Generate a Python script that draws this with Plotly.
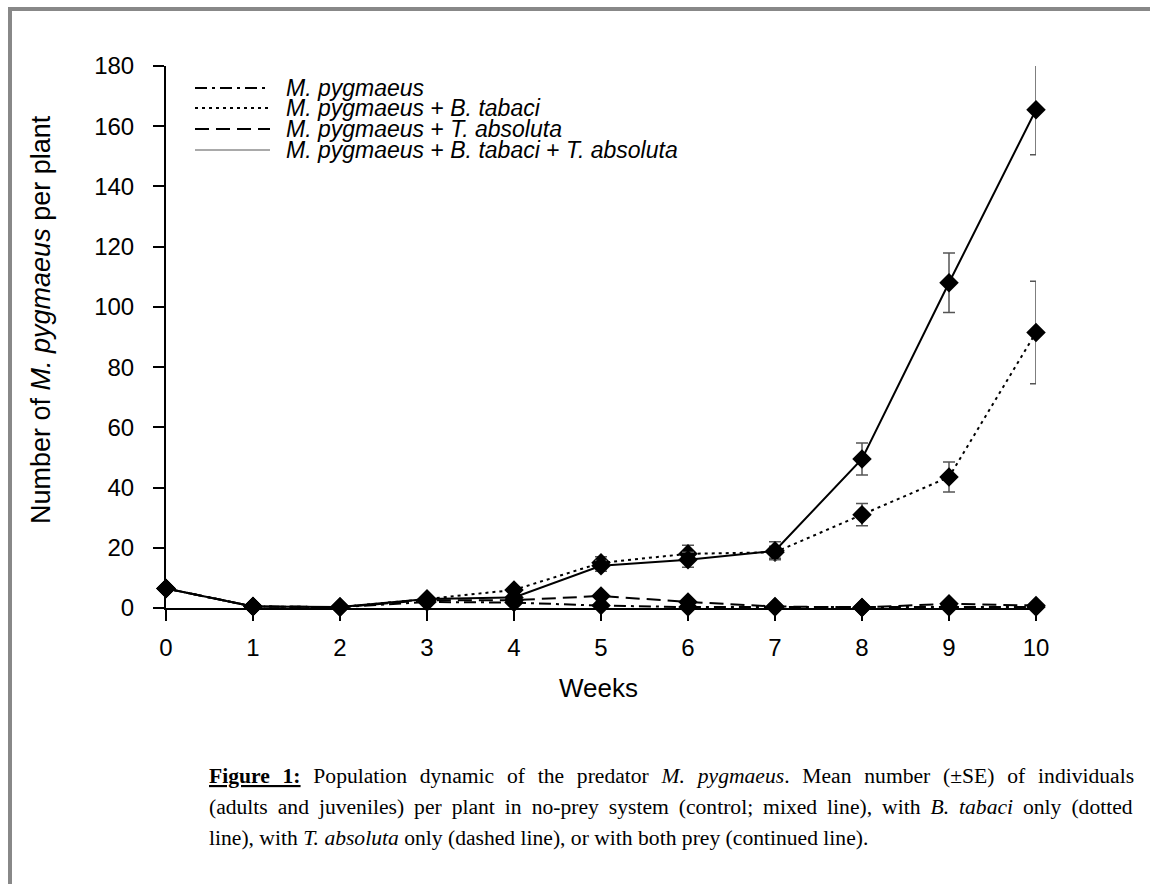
import plotly.graph_objects as go

# ---------------- data ----------------
weeks = list(range(11))
week_labels = [str(w) for w in weeks]
y_ticks = list(range(0, 181, 20))

control = [6.5, 0.5, 0.3, 2.0, 1.8, 0.8, 0.3, 0.3, 0.2, 0.3, 0.3]
control_se = [0.5, 0.1, 0.1, 0.4, 0.4, 0.3, 0.1, 0.1, 0.1, 0.1, 0.1]
btabaci = [6.5, 0.5, 0.3, 3.0, 6.0, 15.0, 18.0, 18.5, 31.0, 43.5, 91.5]
btabaci_se = [0.5, 0.2, 0.1, 0.6, 1.0, 2.0, 2.8, 2.0, 3.7, 5.0, 17.0]
tabsoluta = [6.5, 0.5, 0.3, 2.6, 2.6, 4.0, 2.0, 0.5, 0.2, 1.4, 0.8]
tabsoluta_se = [0.5, 0.1, 0.1, 0.4, 0.5, 0.8, 0.5, 0.2, 0.1, 0.4, 0.3]
both = [6.5, 0.5, 0.3, 3.0, 3.5, 14.0, 16.0, 19.0, 49.5, 108.0, 165.5]
both_se = [0.5, 0.2, 0.1, 0.5, 0.8, 1.8, 2.5, 3.0, 5.3, 9.9, 15.0]

series_names = [
    "<i>M. pygmaeus</i>",
    "<i>M. pygmaeus</i> + <i>B. tabaci</i>",
    "<i>M. pygmaeus</i> + <i>T. absoluta</i>",
    "<i>M. pygmaeus</i> + <i>B. tabaci</i> + <i>T. absoluta</i>",
]

caption_lines = [
    "<b><u>Figure 1:</u></b> Population dynamic of the predator <i>M. pygmaeus</i>. Mean number (±SE) of individuals",
    "(adults and juveniles) per plant in no-prey system (control; mixed line), with <i>B. tabaci</i> only (dotted",
    "line), with <i>T. absoluta</i> only (dashed line), or with both prey (continued line).",
]
caption_word_spacing = [7.4, 4.6, 0.0]

# ---------------- layout geometry ----------------
W, H = 1150, 884
L, R, T, B = 166, 1036, 66, 608


def px_x(px):
    return (px - L) / (R - L)


def px_y(py):
    return (B - py) / (B - T)


SANS = "Liberation Sans, Arial, sans-serif"
SERIF = "Liberation Serif, Times New Roman, serif"

styles = [
    dict(dash="12px,5px,3px,5px", width=2),
    dict(dash="3px,4px", width=2),
    dict(dash="14px,7px", width=2),
    dict(dash="solid", width=2),
]

fig = go.Figure()
for vals, se, st in zip([control, btabaci, tabsoluta, both],
                        [control_se, btabaci_se, tabsoluta_se, both_se], styles):
    fig.add_trace(go.Scatter(
        x=weeks, y=vals, mode="lines+markers",
        line=dict(color="black", width=st["width"], dash=st["dash"]),
        marker=dict(symbol="diamond", size=15, color="black"),
        error_y=dict(type="data", array=se, visible=True, color="#555555",
                     thickness=1.5, width=6),
        cliponaxis=False, showlegend=False,
    ))

# legend (manual)
leg_rows = [88, 108, 129, 150]
leg_styles = [
    dict(dash="12px,5px,3px,5px", width=2, color="black"),
    dict(dash="3px,4px", width=2, color="black"),
    dict(dash="14px,7px", width=2, color="black"),
    dict(dash="solid", width=1, color="#555555"),
]
for yy, st, name in zip(leg_rows, leg_styles, series_names):
    fig.add_shape(type="line", xref="paper", yref="paper",
                  x0=px_x(195), x1=px_x(270), y0=px_y(yy), y1=px_y(yy),
                  line=st)
    fig.add_annotation(xref="paper", yref="paper", x=px_x(284), y=px_y(yy),
                       xanchor="left", yanchor="middle", text=name,
                       showarrow=False, font=dict(family=SANS, size=23, color="black"))

# axis titles
fig.add_annotation(xref="paper", yref="paper", x=px_x(598), y=px_y(688),
                   xanchor="center", yanchor="middle", text="Weeks",
                   showarrow=False, font=dict(family=SANS, size=26, color="black"))
fig.add_annotation(xref="paper", yref="paper", x=px_x(41), y=px_y(320),
                   xanchor="center", yanchor="middle", textangle=-90,
                   text="Number of <i>M. pygmaeus</i> per plant",
                   showarrow=False, font=dict(family=SANS, size=27, color="black"))

# caption
for yy, line, ws in zip([776, 807, 838], caption_lines, caption_word_spacing):
    fig.add_annotation(xref="paper", yref="paper", x=px_x(207), y=px_y(yy),
                       xanchor="left", yanchor="middle",
                       text=f'<span style="word-spacing:{ws}px">{line}</span>',
                       showarrow=False, font=dict(family=SERIF, size=21.6, color="black"))

# frame
fig.add_shape(type="line", xref="paper", yref="paper",
              x0=px_x(8), x1=px_x(1150), y0=px_y(9), y1=px_y(9),
              line=dict(color="#888888", width=4))
fig.add_shape(type="line", xref="paper", yref="paper",
              x0=px_x(10), x1=px_x(10), y0=px_y(7), y1=px_y(884),
              line=dict(color="#888888", width=4))

axis_common = dict(showline=True, linecolor="black", linewidth=2, ticks="outside",
                   ticklen=11, tickwidth=2, tickcolor="black", showgrid=False,
                   zeroline=False, tickfont=dict(family=SANS, size=24, color="black"))

fig.update_layout(
    width=W, height=H,
    margin=dict(l=L, r=W - R, t=T, b=H - B, pad=0),
    paper_bgcolor="white", plot_bgcolor="white",
    xaxis=dict(range=[0, 10], tickvals=weeks, ticktext=week_labels,
               ticklabelstandoff=6, **axis_common),
    yaxis=dict(range=[0, 180], tickvals=y_ticks, ticklabelstandoff=14, **axis_common),
)

fig.write_html("out.html", config={"displayModeBar": False},
               post_script="document.body.style.margin='0px';")
